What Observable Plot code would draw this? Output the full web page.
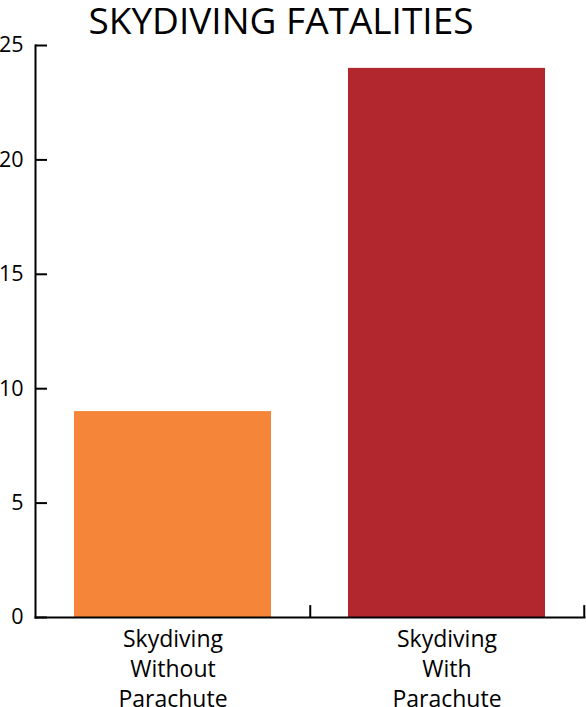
<!DOCTYPE html>
<html>
<head>
<meta charset="utf-8">
<script src="https://cdn.jsdelivr.net/npm/d3@7"></script>
<script src="https://cdn.jsdelivr.net/npm/@observablehq/plot@0.6"></script>
<style>
  body { margin: 0; background: #fff; font-family: "Open Sans", sans-serif; }
  #title { height: 40px; line-height: 40px; font-size: 37px; text-align: center; padding-right: 24px; color: #000; letter-spacing: 0px; white-space: nowrap; }
  svg { display: block; overflow: visible; }
</style>
</head>
<body>
<div id="title">SKYDIVING FATALITIES</div>
<div id="chart"></div>
<script>
const categories = ["Skydiving\nWithout\nParachute", "Skydiving\nWith\nParachute"];
const fatalities = [9, 24];
const colors = ["#F58538", "#B2272D"];
const yTicks = [0, 5, 10, 15, 20, 25];

const data = categories.map((c, i) => ({category: c, value: fatalities[i], color: colors[i]}));

const width = 586, marginLeft = 35, marginRight = 2;
const step = (width - marginLeft - marginRight) / 2;

const chart = Plot.plot({
  width: width,
  height: 667,
  marginTop: 5,
  marginLeft: marginLeft,
  marginRight: marginRight,
  marginBottom: 90,
  style: {fontFamily: "Open Sans, sans-serif", color: "#000", background: "#fff"},
  x: {domain: categories, paddingInner: 0.28, paddingOuter: 0.14},
  y: {domain: [0, 25]},
  marks: [
    Plot.barY(data, {x: "category", y: "value", fill: "color"}),
    Plot.frame({anchor: "left", strokeWidth: 2, stroke: "#000"}),
    Plot.frame({anchor: "bottom", strokeWidth: 2, stroke: "#000"}),
    Plot.axisY({ticks: yTicks, tickSize: -12, tickPadding: 24, fontSize: 21.5, label: null, tickFormat: d => String(d), strokeWidth: 2}),
    Plot.ruleX(categories, {x: d => d, dx: step / 2, y1: 0, y2: 0.52, stroke: "#000", strokeWidth: 2}),
    Plot.axisX({tickSize: 0, tickPadding: 8, fontSize: 23, lineHeight: 1.3, label: null})
  ]
});
document.getElementById("chart").append(chart);
</script>
</body>
</html>
